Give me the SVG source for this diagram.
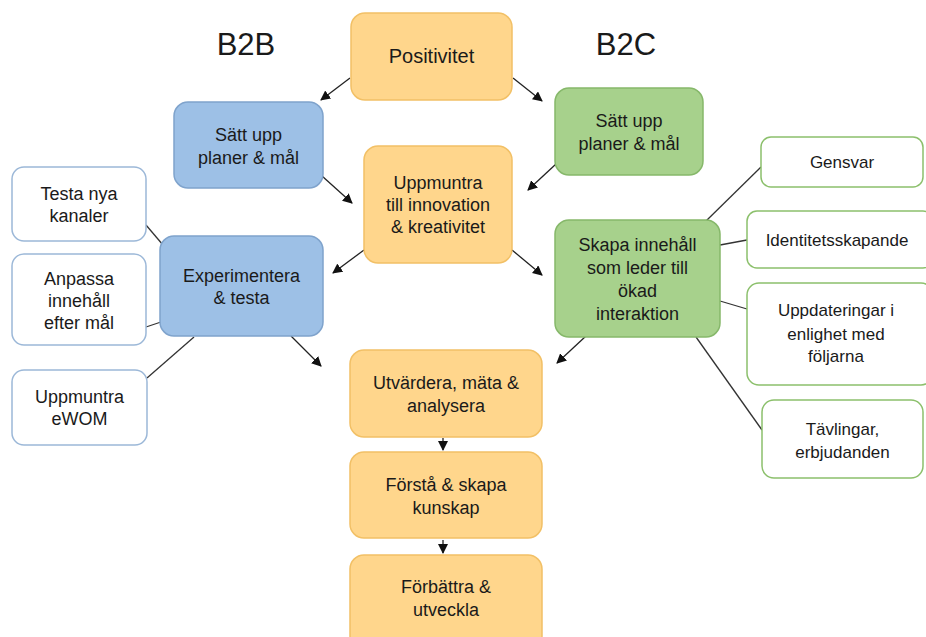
<svg xmlns="http://www.w3.org/2000/svg" width="926" height="637" viewBox="0 0 926 637">
<defs>
<marker id="ah" viewBox="0 0 10 10" refX="9" refY="5" markerWidth="10" markerHeight="10" markerUnits="userSpaceOnUse" orient="auto">
<path d="M0,0 L10,5 L0,10 z" fill="#111"/>
</marker>
<style>
text{font-family:"Liberation Sans",Arial,sans-serif;font-size:18px;fill:#1a1a1a;text-anchor:middle}
.title{font-size:31px}
.or{fill:#FFD68C;stroke:#F2C066;stroke-width:1.5}
.bl{fill:#9DC0E6;stroke:#7FA3CC;stroke-width:1.5}
.gr{fill:#A7D18C;stroke:#86B86A;stroke-width:1.5}
.wb{fill:#fff;stroke:#9CB8D8;stroke-width:1.5}
.wg{fill:#fff;stroke:#8CC06C;stroke-width:1.5}
.c{stroke:#333;stroke-width:1.3;fill:none}
.a{stroke:#222;stroke-width:1.3;fill:none;marker-end:url(#ah)}
.s17{font-size:17px}
</style>
</defs>
<rect width="926" height="637" fill="#fff"/>
<text class="title" x="246" y="55">B2B</text>
<text class="title" x="626" y="55">B2C</text>
<g id="connectors">
<path class="a" d="M350,78 L321,100"/>
<path class="a" d="M513,78 L542,101"/>
<path class="a" d="M322,176 L352,203"/>
<path class="a" d="M556,164 L528,190"/>
<path class="a" d="M364,250 L333,273"/>
<path class="a" d="M512,250 L542,275"/>
<path class="a" d="M291,336 L321,366"/>
<path class="a" d="M586,336 L557,363"/>
<path class="a" d="M443,438 L443,450"/>
<path class="a" d="M443,540 L443,553"/>
<path class="c" d="M146,225 L163,245"/>
<path class="c" d="M146,327 L161,322"/>
<path class="c" d="M147,378 L194,337"/>
<path class="c" d="M706,221 L761,167"/>
<path class="c" d="M720,245 L747,240"/>
<path class="c" d="M720,301 L747,309"/>
<path class="c" d="M696,337 L762,430"/>
</g>
<g id="positivitet">
<rect class="or" x="351" y="13" width="161" height="87" rx="14"/>
<text x="431.5" y="63" style="font-size:20px">Positivitet</text>
</g>
<g id="b2b-planer">
<rect class="bl" x="174" y="102" width="149" height="86" rx="14"/>
<text x="248.5" y="141">Sätt upp</text>
<text x="248.5" y="164">planer &amp; mål</text>
</g>
<g id="b2c-planer">
<rect class="gr" x="555" y="88" width="148" height="87" rx="14"/>
<text x="629" y="127">Sätt upp</text>
<text x="629" y="150">planer &amp; mål</text>
</g>
<g id="uppmuntra-innovation">
<rect class="or" x="364" y="146" width="148" height="117" rx="14"/>
<text x="438" y="189">Uppmuntra</text>
<text x="438" y="211">till innovation</text>
<text x="438" y="233">&amp; kreativitet</text>
</g>
<g id="experimentera">
<rect class="bl" x="160" y="236" width="163" height="100" rx="14"/>
<text x="241.5" y="282">Experimentera</text>
<text x="241.5" y="304">&amp; testa</text>
</g>
<g id="testa-kanaler">
<rect class="wb" x="12" y="167" width="134" height="74" rx="12"/>
<text x="79" y="200">Testa nya</text>
<text x="79" y="222">kanaler</text>
</g>
<g id="anpassa">
<rect class="wb" x="12" y="254" width="134" height="91" rx="12"/>
<text x="79" y="285">Anpassa</text>
<text x="79" y="307">innehåll</text>
<text x="79" y="329">efter mål</text>
</g>
<g id="ewom">
<rect class="wb" x="12" y="370" width="135" height="75" rx="12"/>
<text x="79.5" y="403">Uppmuntra</text>
<text x="79.5" y="425">eWOM</text>
</g>
<g id="skapa">
<rect class="gr" x="555" y="220" width="165" height="117" rx="14"/>
<text x="637.5" y="251">Skapa innehåll</text>
<text x="637.5" y="274">som leder till</text>
<text x="637.5" y="297">ökad</text>
<text x="637.5" y="320">interaktion</text>
</g>
<g id="gensvar">
<rect class="wg" x="761" y="137" width="162" height="50" rx="10"/>
<text class="s17" x="842" y="168">Gensvar</text>
</g>
<g id="identitet">
<rect class="wg" x="747" y="211" width="186" height="57" rx="10"/>
<text class="s17" x="837" y="246">Identitetsskapande</text>
</g>
<g id="uppdateringar">
<rect class="wg" x="747" y="283" width="186" height="102" rx="12"/>
<text class="s17" x="836" y="316">Uppdateringar i</text>
<text class="s17" x="836" y="340">enlighet med</text>
<text class="s17" x="836" y="362">följarna</text>
</g>
<g id="tavlingar">
<rect class="wg" x="762" y="400" width="161" height="78" rx="12"/>
<text class="s17" x="842.5" y="435">Tävlingar,</text>
<text class="s17" x="842.5" y="458">erbjudanden</text>
</g>
<g id="utvardera">
<rect class="or" x="350" y="350" width="192" height="87" rx="14"/>
<text x="446" y="389">Utvärdera, mäta &amp;</text>
<text x="446" y="412">analysera</text>
</g>
<g id="forsta">
<rect class="or" x="350" y="452" width="192" height="86" rx="14"/>
<text x="446" y="491">Förstå &amp; skapa</text>
<text x="446" y="514">kunskap</text>
</g>
<g id="forbattra">
<rect class="or" x="350" y="555" width="192" height="95" rx="14"/>
<text x="446" y="593">Förbättra &amp;</text>
<text x="446" y="616">utveckla</text>
</g>
</svg>
